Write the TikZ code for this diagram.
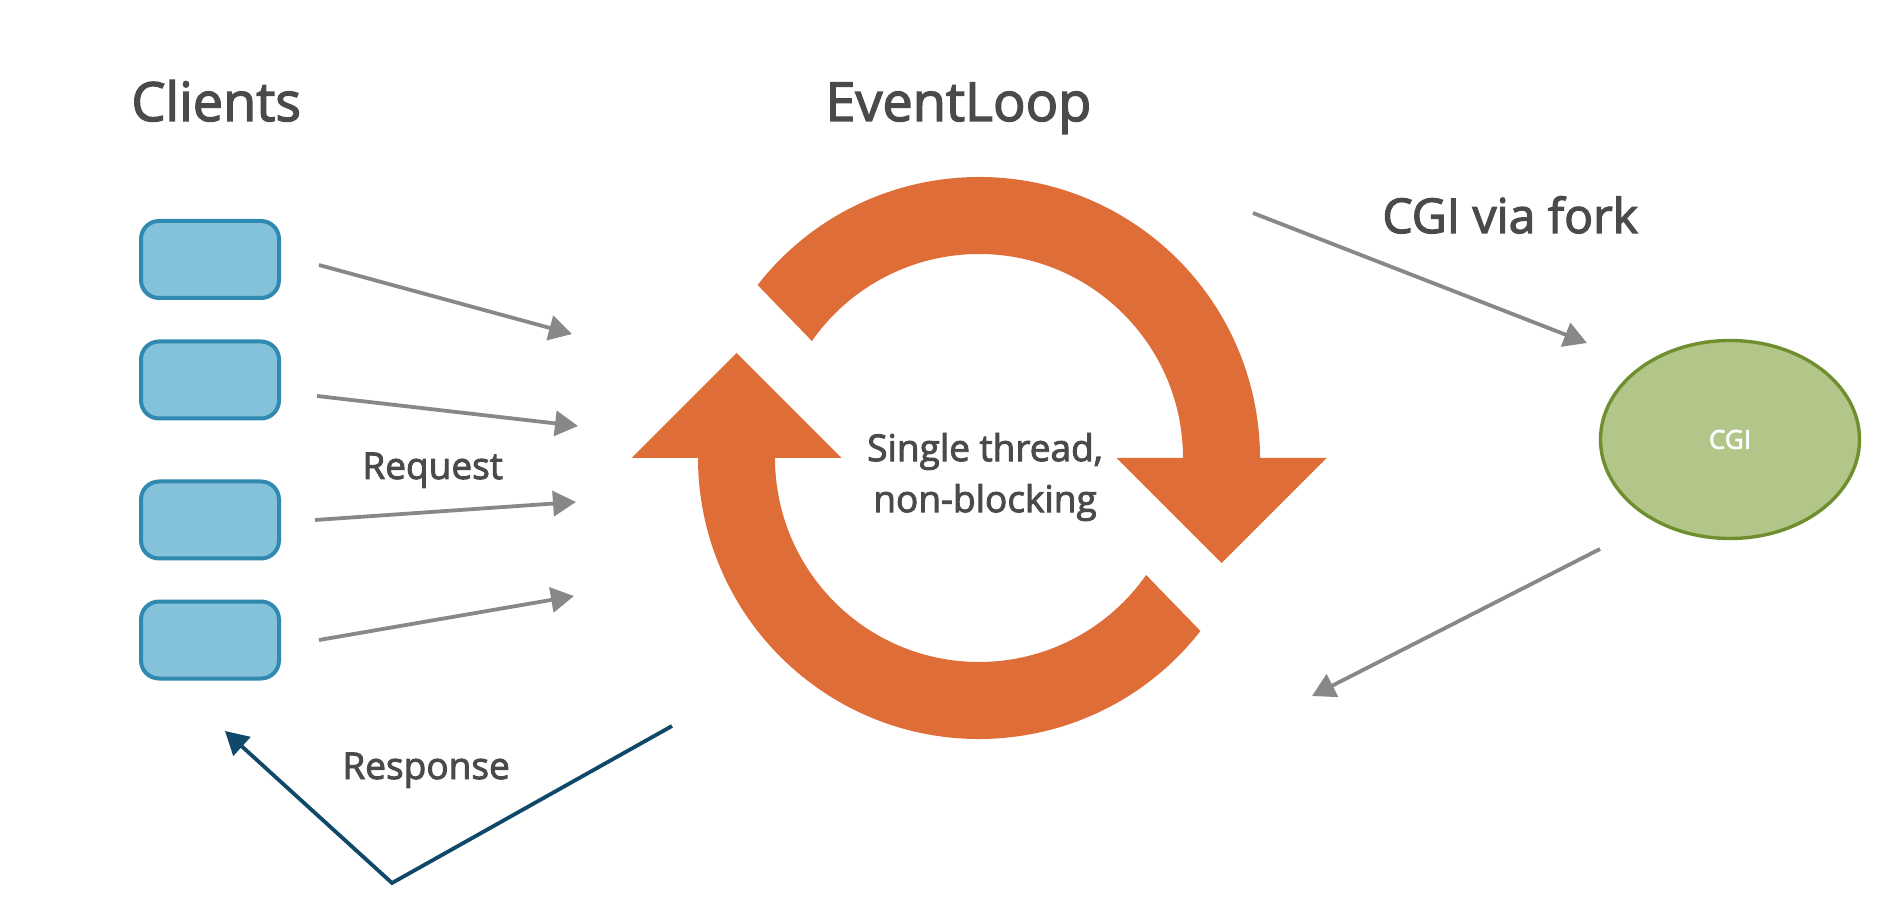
\documentclass[tikz,border=0pt]{standalone}
\usepackage{fontspec}
\setmainfont{Open Sans}[FakeBold=2.5]
\usetikzlibrary{arrows.meta,shapes.geometric}
\definecolor{txt}{HTML}{4A4A4A}
\definecolor{boxfill}{HTML}{84C2DB}
\definecolor{boxline}{HTML}{3089B0}
\definecolor{arrgray}{HTML}{888888}
\definecolor{navy}{HTML}{0F4868}
\definecolor{loopor}{HTML}{DF6D38}
\definecolor{cgifill}{HTML}{B2C689}
\definecolor{cgiline}{HTML}{6F8F2F}
\tikzset{
  client/.style={draw=boxline, fill=boxfill, line width=2pt, rounded corners=9pt,
    minimum width=69pt, minimum height=38.5pt, inner sep=0pt},
  title/.style={anchor=base west, inner sep=0pt, text=txt, font=\fontsize{27}{32}\selectfont},
  label/.style={anchor=base west, inner sep=0pt, text=txt, font=\fontsize{18.5}{25.5}\selectfont},
  req/.style={draw=arrgray, line width=1.9pt, -{Triangle[length=11.5pt,width=12.5pt]}},
  resp/.style={draw=navy, line width=1.9pt, line join=miter, -{Triangle[length=11.5pt,width=12.5pt]}},
  loopshape/.style={fill=loopor},
}
\begin{document}
\begin{tikzpicture}[x=0.5pt,y=0.5pt]
\useasboundingbox (0,0) rectangle (1900,-924);
\fill[white] (0,0) rectangle (1900,-924);

% titles
\node[title] (clients) at (131,-121) {Clients};
\node[title] (eventloop) at (825,-121) {EventLoop};
\node[anchor=base west, inner sep=0pt, text=txt, font=\fontsize{24}{29}\selectfont] (forklabel) at (1382,-233) {CGI via fork};

% clients
\node[client] (c1) at (210,-259.5) {};
\node[client] (c2) at (210,-380) {};
\node[client] (c3) at (210,-520) {};
\node[client] (c4) at (210,-640) {};

% event loop
\begin{scope}[shift={(979,-458)}]
\fill[loopshape] (142:281) arc[start angle=142, end angle=0, radius=281]
  -- (347.5,0) -- (242.5,-105) -- (137.5,0) -- (204,0)
  arc[start angle=0, end angle=145, radius=204] -- cycle;
\fill[loopshape] (-38:281) arc[start angle=-38, end angle=-180, radius=281]
  -- (-347.5,0) -- (-242.5,105) -- (-137.5,0) -- (-204,0)
  arc[start angle=180, end angle=325, radius=204] -- cycle;
\end{scope}
\node[align=center, inner sep=0pt, text=txt, font=\fontsize{18.5}{25.5}\selectfont] (single) at (985,-477) {Single thread,\\non-blocking};

% CGI
\node[ellipse, draw=cgiline, fill=cgifill, line width=1.7pt, minimum width=129.5pt, minimum height=99pt,
  inner sep=0pt, text=white, font=\fontsize{13}{16}\selectfont] (cgi) at (1730,-439.5) {CGI};

% request arrows
\coordinate (r1s) at (319,-265); \coordinate (r1e) at (572,-334);
\coordinate (r2s) at (317,-396); \coordinate (r2e) at (578,-426);
\coordinate (r3s) at (315,-520); \coordinate (r3e) at (576,-502);
\coordinate (r4s) at (319,-640); \coordinate (r4e) at (574,-596);
\draw[req] (r1s) -- (r1e);
\draw[req] (r2s) -- (r2e);
\draw[req] (r3s) -- (r3e);
\draw[req] (r4s) -- (r4e);
\node[label] (request) at (362,-479) {Request};

% cgi arrows
\coordinate (fs) at (1253,-213); \coordinate (fe) at (1587,-343);
\coordinate (bs) at (1600,-549); \coordinate (be) at (1312,-696);
\draw[req] (fs) -- (fe);
\draw[req] (bs) -- (be);

% response
\coordinate (ps) at (672,-726); \coordinate (pv) at (392,-883); \coordinate (pe) at (225,-731);
\draw[resp] (ps) -- (pv) -- (pe);
\node[label] (response) at (342,-779) {Response};
\end{tikzpicture}
\end{document}
